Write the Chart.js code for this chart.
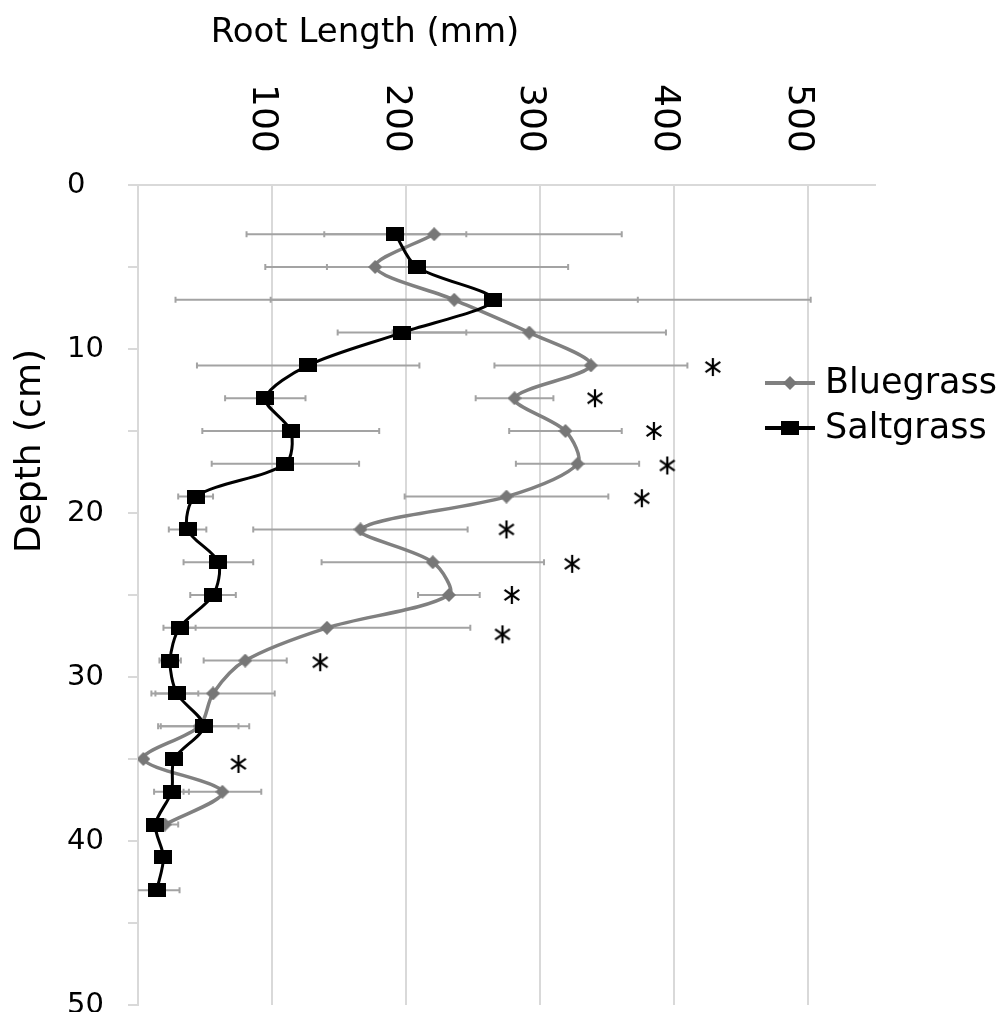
<!DOCTYPE html>
<html lang="en">
<head>
<meta charset="UTF-8">
<title>Root Length by Depth</title>
<script src="https://cdn.jsdelivr.net/npm/chart.js@4.4.0/dist/chart.umd.min.js"></script>
<style>
    html, body { margin: 0; padding: 0; background: #fff; }
    #wrap { width: 1007px; height: 1012px; }
</style>
</head>
<body>
<div id="wrap"><canvas id="chart" width="1007" height="1012"></canvas></div>
<script>
// sampling depth (cm)
const depths = [3, 5, 7, 9, 11, 13, 15, 17, 19, 21, 23, 25, 27, 29, 31, 33, 35, 37, 39, 41, 43];
// root length (mm) and error
const bluegrass    = [221, 177, 236, 292, 338, 281, 319, 328, 275, 166, 220, 232, 141, 80, 56, 46, 4, 63, 20, null, null];
const bluegrassErr = [140, 36, 137, 102, 72, 29, 42, 46, 76, 80, 83, 23, 107, 31, 46, 29, 0, 29, 10, 0, 0];
const saltgrass    = [192, 208, 265, 197, 127, 95, 114, 110, 43, 37, 60, 56, 31, 24, 29, 49, 27, 25, 13, 19, 14];
const saltgrassErr = [53, 113, 237, 48, 83, 30, 66, 55, 13, 14, 26, 17, 12, 8, 16, 34, 4, 13, 6, 4, 17];
// asterisks (significant difference)
const starLength = [429, 341, 385, 395, 376, 275, 324, 279, 272, 136, 75];
const starDepth  = [11.1, 13.0, 15.0, 17.1, 19.1, 21.0, 23.1, 25.0, 27.4, 29.1, 35.3];
const xTicks = [0, 100, 200, 300, 400, 500];

const FONT = "'DejaVu Sans', Verdana, sans-serif";

function makeCanvas(w, h, draw) {
    const c = document.createElement('canvas');
    c.width = w; c.height = h;
    draw(c.getContext('2d'), w, h);
    return c;
}
const squareImg = makeCanvas(18, 14, (g, w, h) => { g.fillStyle = '#000'; g.fillRect(0, 0, w, h); });
const diamondImg = makeCanvas(14, 14, (g, w, h) => {
    g.fillStyle = '#777';
    g.beginPath(); g.moveTo(w / 2, 0); g.lineTo(w, h / 2); g.lineTo(w / 2, h); g.lineTo(0, h / 2); g.closePath(); g.fill();
});
const starImg = makeCanvas(24, 24, (g, w, h) => {
    g.strokeStyle = '#000'; g.lineWidth = 2.2;
    const r = 9;
    [90, 35, 145].forEach(a => {
        const t = a * Math.PI / 180;
        g.beginPath();
        g.moveTo(w / 2 - r * Math.cos(t), h / 2 - r * Math.sin(t));
        g.lineTo(w / 2 + r * Math.cos(t), h / 2 + r * Math.sin(t));
        g.stroke();
    });
});

const pts = (xs, ys) => xs.map((v, i) => ({ x: v, y: ys[i] })).filter(p => p.x !== null);

const series = [
    { label: 'Bluegrass', vals: bluegrass, errs: bluegrassErr, color: '#808080', img: diamondImg },
    { label: 'Saltgrass', vals: saltgrass, errs: saltgrassErr, color: '#000', img: squareImg }
];

const errorBars = {
    id: 'errorBars',
    beforeDatasetsDraw(chart) {
        const { ctx, chartArea, scales: { x, y } } = chart;
        ctx.save();
        ctx.beginPath();
        ctx.rect(chartArea.left, chartArea.top, chartArea.width, chartArea.height);
        ctx.clip();
        ctx.strokeStyle = '#a3a3a3';
        ctx.lineWidth = 2;
        series.forEach(s => {
            s.vals.forEach((v, i) => {
                if (v === null || !s.errs[i]) return;
                const py = y.getPixelForValue(depths[i]);
                const x0 = x.getPixelForValue(v - s.errs[i]);
                const x1 = x.getPixelForValue(v + s.errs[i]);
                ctx.beginPath();
                ctx.moveTo(x0, py); ctx.lineTo(x1, py);
                ctx.moveTo(x0, py - 3); ctx.lineTo(x0, py + 3);
                ctx.moveTo(x1, py - 3); ctx.lineTo(x1, py + 3);
                ctx.stroke();
            });
        });
        ctx.restore();
    }
};

const texts = {
    id: 'texts',
    afterDraw(chart) {
        const { ctx, scales: { x } } = chart;
        ctx.save();
        ctx.fillStyle = '#000';
        // top axis title
        ctx.font = '34px ' + FONT;
        ctx.textAlign = 'center';
        ctx.textBaseline = 'alphabetic';
        ctx.fillText('Root Length (mm)', 365, 42);
        // left axis title
        ctx.save();
        ctx.translate(40, 451);
        ctx.rotate(-Math.PI / 2);
        ctx.font = '36px ' + FONT;
        ctx.fillText('Depth (cm)', 0, 0);
        ctx.restore();
        // rotated x tick labels
        ctx.font = '36px ' + FONT;
        ctx.textAlign = 'left';
        xTicks.forEach(v => {
            if (v === 0) return;
            const px = x.getPixelForValue(v);
            ctx.save();
            ctx.translate(px - 19, 84);
            ctx.rotate(Math.PI / 2);
            ctx.fillText(String(v), 0, 0);
            ctx.restore();
        });
        // legend
        ctx.font = '35px ' + FONT;
        ctx.textBaseline = 'middle';
        series.forEach((s, i) => {
            const ly = 383 + i * 45;
            ctx.strokeStyle = s.color;
            ctx.lineWidth = 4;
            ctx.beginPath(); ctx.moveTo(765, ly); ctx.lineTo(815, ly); ctx.stroke();
            ctx.drawImage(s.img, 790 - s.img.width / 2, ly - s.img.height / 2);
            ctx.fillText(s.label, 825, ly + 1);
        });
        ctx.restore();
    }
};

new Chart(document.getElementById('chart'), {
    type: 'scatter',
    data: {
        datasets: [
            {
                label: 'Saltgrass', data: pts(saltgrass, depths), order: 0,
                showLine: true, borderColor: '#000', borderWidth: 3, tension: 0.3,
                pointStyle: squareImg, pointRadius: 7
            },
            {
                label: 'Bluegrass', data: pts(bluegrass, depths), order: 1,
                showLine: true, borderColor: '#808080', borderWidth: 3.5, tension: 0.3,
                pointStyle: diamondImg, pointRadius: 7
            },
            {
                label: 'sig', data: pts(starLength, starDepth), order: 0,
                showLine: false, pointStyle: starImg, pointRadius: 10
            }
        ]
    },
    options: {
        responsive: false,
        animation: false,
        layout: { autoPadding: false, padding: { top: 0, left: 67, right: 132, bottom: 7 } },
        plugins: { legend: { display: false }, tooltip: { enabled: false } },
        scales: {
            x: {
                type: 'linear', position: 'top', min: 0, max: 550,
                afterBuildTicks: s => { s.ticks = xTicks.map(v => ({ value: v })); },
                afterFit: s => { s.height = 185; s.paddingLeft = 0; s.paddingRight = 0; },
                ticks: { display: false },
                grid: { color: '#d9d9d9', lineWidth: 2, drawTicks: false },
                border: { color: '#d9d9d9', width: 2 }
            },
            y: {
                type: 'linear', position: 'left', reverse: true, min: 0, max: 50,
                afterFit: s => { s.width = 71; s.paddingTop = 0; s.paddingBottom = 0; },
                ticks: {
                    stepSize: 5, padding: 8, color: '#000', crossAlign: 'far',
                    font: { family: FONT, size: 29 },
                    callback: v => (v % 10 === 0 ? v : '')
                },
                grid: { drawOnChartArea: false, drawTicks: true, tickLength: 10, color: '#d9d9d9', lineWidth: 2 },
                border: { color: '#d9d9d9', width: 2 }
            }
        }
    },
    plugins: [errorBars, texts]
});
</script>
</body>
</html>
